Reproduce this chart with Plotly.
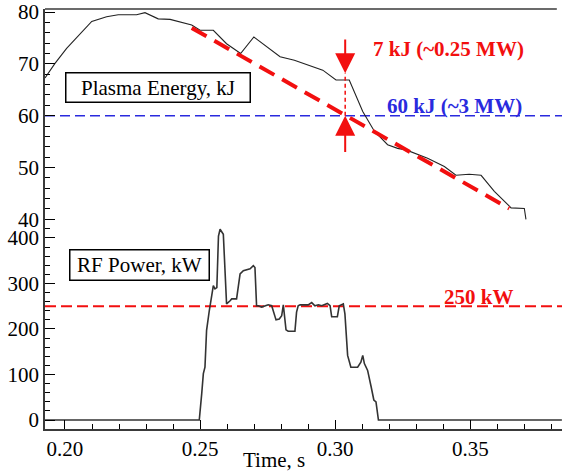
import plotly.graph_objects as go

# ---------------- data ----------------
# Plasma energy trace (time s, energy kJ)
pe_t = [0.1926, 0.1963, 0.2006, 0.2056, 0.2099, 0.2154, 0.2197, 0.2265, 0.2296,
        0.2345, 0.2389, 0.2469, 0.2500, 0.2549, 0.2598, 0.2650, 0.2699, 0.2796,
        0.2849, 0.2954, 0.3003, 0.3052, 0.3102, 0.3145, 0.3194, 0.3231, 0.3262,
        0.3342, 0.3404, 0.3447, 0.3496, 0.3540, 0.3589, 0.3651, 0.3700, 0.3706]
pe_e = [67.3, 70.1, 73.0, 75.9, 78.2, 79.1, 79.5, 79.5, 79.9,
        78.7, 78.6, 77.5, 76.5, 76.5, 73.9, 72.0, 75.2, 71.4,
        70.7, 68.8, 66.9, 66.9, 60.8, 57.0, 54.4, 53.7, 53.4,
        51.8, 50.2, 48.5, 48.7, 48.5, 45.4, 42.2, 42.1, 40.0]

# RF power trace (time s, power kW)
rf_t = [0.1926, 0.2497, 0.2506, 0.2512, 0.2518, 0.2524, 0.2534, 0.2543, 0.2549,
        0.2555, 0.2562, 0.2568, 0.2574, 0.2586, 0.2592, 0.2598, 0.2611, 0.2617,
        0.2635, 0.2648, 0.2660, 0.2685, 0.2697, 0.2703, 0.2709, 0.2715, 0.2728,
        0.2740, 0.2752, 0.2765, 0.2774, 0.2781, 0.2793, 0.2802, 0.2808, 0.2812,
        0.2818, 0.2826, 0.2851, 0.2857, 0.2863, 0.2870, 0.2900, 0.2913, 0.2925,
        0.2938, 0.2950, 0.2971, 0.2981, 0.2987, 0.3008, 0.3015, 0.3030, 0.3036,
        0.3043, 0.3046, 0.3058, 0.3083, 0.3095, 0.3102, 0.3108, 0.3120, 0.3133,
        0.3143, 0.3151, 0.3160, 0.3839]
rf_p = [0, 0, 58, 102, 116, 197, 240, 270, 295,
        288, 291, 404, 419, 408, 321, 255, 262, 266,
        266, 321, 328, 332, 339, 335, 251, 251, 248,
        251, 253, 251, 233, 220, 222, 229, 253, 233,
        198, 195, 195, 237, 251, 253, 253, 258, 251,
        253, 251, 256, 251, 227, 227, 251, 255, 233,
        153, 142, 116, 116, 127, 142, 124, 109, 73,
        44, 40, 0, 0]

# linear fit of the energy decay
fit_t = [0.2469, 0.3644]
fit_e = [76.95, 42.1]

ref_energy = 60      # kJ
ref_power = 250      # kW

# arrow marking the 7 kJ gap
gap_t = 0.3037
gap_hi = 68.2
gap_lo = 60.0

x_range = [0.1926, 0.38394]
y1_range = [38.52, 80.6]
y2_range = [-19.7, 424]

FONT = "'Liberation Serif', 'Times New Roman', Times, serif"
RED = "#f20f0f"
BLUE = "#2a2ade"
AX = "#3a3a3a"

fig = go.Figure()

# reference lines
fig.add_trace(go.Scatter(x=x_range, y=[ref_energy, ref_energy], mode="lines",
                         line=dict(color=BLUE, width=1.6, dash="10px,5px"),
                         xaxis="x", yaxis="y", hoverinfo="skip"))
fig.add_trace(go.Scatter(x=x_range, y=[ref_power, ref_power], mode="lines",
                         line=dict(color=RED, width=2, dash="11px,5px"),
                         xaxis="x", yaxis="y2", hoverinfo="skip"))
# data traces
fig.add_trace(go.Scatter(x=pe_t, y=pe_e, mode="lines",
                         line=dict(color="#222222", width=1.1),
                         xaxis="x", yaxis="y"))
fig.add_trace(go.Scatter(x=fit_t, y=fit_e, mode="lines",
                         line=dict(color=RED, width=4, dash="17px,9px"),
                         xaxis="x", yaxis="y"))
fig.add_trace(go.Scatter(x=rf_t, y=rf_p, mode="lines",
                         line=dict(color="#333333", width=1.6),
                         xaxis="x", yaxis="y2"))

fig.add_shape(type="line", xref="x", yref="y", x0=gap_t, x1=gap_t, y0=gap_lo, y1=gap_hi,
              line=dict(color=RED, width=1.5, dash="4px,3px"))
fig.add_shape(type="line", xref="paper", yref="paper", x0=0, x1=0.990, y0=1, y1=1,
              line=dict(color=AX, width=1.6))

ann = []
ann.append(dict(x=gap_t, y=gap_hi, ax=gap_t, ay=75.0, xref="x", yref="y", axref="x", ayref="y",
                text="", showarrow=True, arrowhead=2, arrowsize=2, arrowwidth=2, arrowcolor=RED))
ann.append(dict(x=gap_t, y=gap_lo, ax=gap_t, ay=52.7, xref="x", yref="y", axref="x", ayref="y",
                text="", showarrow=True, arrowhead=2, arrowsize=2, arrowwidth=2, arrowcolor=RED))
ann.append(dict(x=0.3418, y=72.9, xref="x", yref="y", showarrow=False,
                text="<b>7 kJ (~0.25 MW)</b>", font=dict(family=FONT, size=21, color=RED)))
ann.append(dict(x=0.3443, y=61.9, xref="x", yref="y", showarrow=False,
                text="<b>60 kJ (~3 MW)</b>", font=dict(family=FONT, size=21, color=BLUE)))
ann.append(dict(x=0.3532, y=271, xref="x", yref="y2", showarrow=False,
                text="<b>250 kW</b>", font=dict(family=FONT, size=21, color=RED)))
ann.append(dict(x=0.2344, y=65.4, xref="x", yref="y", showarrow=False,
                text="Plasma Energy, kJ", font=dict(family=FONT, size=21, color="black"),
                bordercolor="black", borderwidth=1.5, borderpad=1, bgcolor="white",
                width=181, height=26))
ann.append(dict(x=0.2276, y=340, xref="x", yref="y2", showarrow=False,
                text="RF Power, kW", font=dict(family=FONT, size=21, color="black"),
                bordercolor="black", borderwidth=1.5, borderpad=1, bgcolor="white",
                width=136, height=27))
ann.append(dict(x=0.4426, y=-0.0735, xref="paper", yref="paper", showarrow=False,
                xanchor="center", yanchor="middle",
                text="Time, s", font=dict(family=FONT, size=21, color="black")))

tickfont = dict(family=FONT, size=21, color="black")

fig.update_layout(
    width=562, height=476,
    margin=dict(l=45, r=0, t=7, b=47),
    paper_bgcolor="white", plot_bgcolor="white",
    showlegend=False,
    font=dict(family=FONT),
    annotations=ann,
    xaxis=dict(domain=[0, 1], anchor="y2", range=x_range, tick0=0.2, dtick=0.05,
               tickformat=".2f", ticks="inside", ticklen=9, tickcolor="black", tickwidth=1,
               minor=dict(ticks="inside", ticklen=5, dtick=0.01, tick0=0.2, tickcolor="black"),
               showline=True, linecolor=AX, linewidth=1.6, showgrid=False, zeroline=False,
               tickfont=tickfont),
    xaxis2=dict(overlaying="x", anchor="y", side="top", range=x_range, tick0=0.2, dtick=0.05,
                ticks="inside", ticklen=9, tickcolor="black", tickwidth=1,
                minor=dict(ticks="inside", ticklen=5, dtick=0.01, tick0=0.2, tickcolor="black"),
                showticklabels=False, showline=False, showgrid=False, zeroline=False),
    yaxis=dict(domain=[0.481, 1], anchor="x", range=y1_range, tick0=40, dtick=10,
               ticks="inside", ticklen=10, tickcolor="black", tickwidth=1,
               minor=dict(ticks="inside", ticklen=5, dtick=2, tick0=40, tickcolor="black"),
               showline=True, linecolor=AX, linewidth=1.6, showgrid=False, zeroline=False,
               tickfont=tickfont, ticklabeloverflow="allow"),
    yaxis2=dict(domain=[0, 0.481], anchor="x", range=y2_range, tick0=0, dtick=100,
                ticks="inside", ticklen=10, tickcolor="black", tickwidth=1,
                minor=dict(ticks="inside", ticklen=5, dtick=20, tick0=0, tickcolor="black"),
                showline=True, linecolor=AX, linewidth=1.6, showgrid=False, zeroline=False,
                tickfont=tickfont, ticklabeloverflow="allow"),
    yaxis3=dict(overlaying="y", anchor="x", side="right", range=y1_range, tick0=40, dtick=10,
                ticks="inside", ticklen=7, tickcolor="black", tickwidth=1,
                minor=dict(ticks="inside", ticklen=3, dtick=2, tick0=40, tickcolor="black"),
                showticklabels=False, showline=False, showgrid=False, zeroline=False),
    yaxis4=dict(overlaying="y2", anchor="x", side="right", range=y2_range, tick0=0, dtick=100,
                ticks="inside", ticklen=7, tickcolor="black", tickwidth=1,
                minor=dict(ticks="inside", ticklen=3, dtick=20, tick0=0, tickcolor="black"),
                showticklabels=False, showline=False, showgrid=False, zeroline=False),
)

fig.write_html("out.html")
